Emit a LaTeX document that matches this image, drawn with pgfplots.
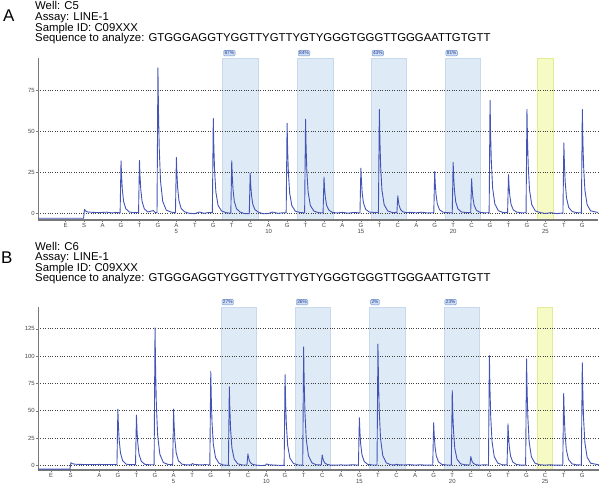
\documentclass[border=0pt]{standalone}
\usepackage{fontspec}
\setmainfont{Liberation Sans}
\usepackage{pgfplots}
\pgfplotsset{compat=1.18}

\definecolor{trace}{RGB}{68,84,182}
\definecolor{shadeblue}{RGB}{222,234,246}
\definecolor{shadeblueline}{RGB}{200,217,236}
\definecolor{shadeyellow}{RGB}{246,250,196}
\definecolor{shadeyellowline}{RGB}{226,236,150}
\definecolor{labelfill}{RGB}{205,222,245}
\definecolor{labeldraw}{RGB}{110,145,205}
\definecolor{labeltext}{RGB}{40,60,140}
\definecolor{axisgray}{RGB}{120,120,120}
\definecolor{ticktext}{RGB}{70,70,70}

\pgfplotsset{
  pyro/.style={
    scale only axis, width=560bp, height=162bp,
    set layers=standard, clip=false,
    axis x line=bottom, axis y line=left,
    axis line style={-, axisgray, line width=0.6bp},
    x axis line style={line width=1.3bp},
    tick align=outside, major tick length=2bp,
    tick style={axisgray, line width=0.4bp},
    ymajorgrids, major grid style={dotted, line width=0.7bp, black!75},
    xticklabels={E,S,A,G,T,G,A,T,G,T,C,A,G,T,C,A,G,T,C,A,G,T,C,G,T,G,C,T,G},
    extra x ticks={5,10,15,20,25},
    extra x tick style={major tick length=0pt, tick label style={yshift=-8bp}},
    ticklabel style={font=\fontsize{6}{6}\selectfont, text=ticktext, inner sep=1bp},
    /pgf/number format/assume math mode=true,
  },
}
\tikzset{
  pct/.style={anchor=south west, fill=labelfill, draw=labeldraw, rounded corners=1bp,
    inner sep=1bp, line width=0.4bp, text=labeltext, font=\fontsize{4.8}{4.8}\selectfont, yshift=2bp, xshift=0.8bp},
}

\begin{document}
\begin{tikzpicture}

% ---------------- panel A
\begin{axis}[pyro, at={(38bp,-58bp)}, anchor=north west,
  xmin=-2.5, xmax=27.85, ymin=-4.3, ymax=95,
  ytick={0,25,50,75},
  xtick={-1,0,1,2,...,27}]
\addplot[on layer=axis background, fill=shadeblue, draw=shadeblueline, line width=0.4bp]
  coordinates {(7.5,-4.3) (7.5,95) (9.45,95) (9.45,-4.3)};
\addplot[on layer=axis background, fill=shadeblue, draw=shadeblueline, line width=0.4bp]
  coordinates {(11.55,-4.3) (11.55,95) (13.5,95) (13.5,-4.3)};
\addplot[on layer=axis background, fill=shadeblue, draw=shadeblueline, line width=0.4bp]
  coordinates {(15.55,-4.3) (15.55,95) (17.45,95) (17.45,-4.3)};
\addplot[on layer=axis background, fill=shadeblue, draw=shadeblueline, line width=0.4bp]
  coordinates {(19.55,-4.3) (19.55,95) (21.45,95) (21.45,-4.3)};
\addplot[on layer=axis background, fill=shadeyellow, draw=shadeyellowline, line width=0.4bp]
  coordinates {(24.55,-4.3) (24.55,95) (25.4,95) (25.4,-4.3)};
\addplot[trace, line width=0.9bp, line join=round] coordinates {
(-2.5,-3.2) (-0.03,-3.2) (0.02,2.2) (0.08,1.2) (0.2,0.6) (0.45,0.4) (0.8,0.2) (1.2,0.5) (1.5,0.1) (1.8,0.3)
(1.95,0) (2,32) (2.03,22.4) (2.07,14.4) (2.14,7) (2.26,2.6) (2.45,0.6) (2.7,0.2)
(2.95,0.3) (3,32.3) (3.03,22.6) (3.07,14.5) (3.14,7.1) (3.26,2.6) (3.45,0.6) (3.75,1.5) (3.85,0.3)
(3.95,0.2) (4,89) (4.03,62.3) (4.07,40) (4.14,19.6) (4.26,7.1) (4.45,1.8) (4.7,0.6)
(4.95,0.1) (5,34) (5.03,23.8) (5.07,15.3) (5.14,7.5) (5.26,2.7) (5.45,0.7) (5.7,-0.2)
(6,-0.4) (6.25,0.6) (6.5,-0.2) (6.75,0.3)
(6.95,0.2) (7,58) (7.03,40.6) (7.07,26.1) (7.14,12.8) (7.26,4.6) (7.45,1.2) (7.7,0.2)
(7.95,-0.2) (8,32) (8.03,22.4) (8.07,14.4) (8.14,7) (8.26,2.6) (8.45,0.6) (8.7,-0.4)
(8.95,-0.4) (9,24.5) (9.03,17.2) (9.07,11) (9.14,5.4) (9.26,2) (9.45,0.5) (9.7,-0.5)
(10,-0.3) (10.2,0.6) (10.5,-0.2) (10.75,0.1)
(10.95,0.2) (11,55) (11.03,38.5) (11.07,24.8) (11.14,12.1) (11.26,4.4) (11.45,1.1) (11.7,0.3)
(11.95,0.1) (12,57.5) (12.03,40.3) (12.07,25.9) (12.14,12.7) (12.26,4.6) (12.45,1.2) (12.7,0.2)
(12.95,0.1) (13,22) (13.03,15.4) (13.07,9.9) (13.14,4.8) (13.26,1.8) (13.45,0.4) (13.7,0)
(14,0.4) (14.3,-0.1) (14.6,0.3)
(14.95,0.1) (15,27.5) (15.03,19.3) (15.07,12.4) (15.14,6.1) (15.26,2.2) (15.45,0.6) (15.7,0.3)
(15.95,0.3) (16,63.5) (16.03,44.5) (16.07,28.6) (16.14,14) (16.26,5.1) (16.45,1.3) (16.7,0.3)
(16.95,0.2) (17,10.5) (17.03,7.4) (17.07,4.7) (17.14,2.3) (17.26,0.8) (17.45,0.2) (17.7,0.4)
(18,0.1) (18.3,0.5) (18.6,0)
(18.95,0.2) (19,25.5) (19.03,17.9) (19.07,11.5) (19.14,5.6) (19.26,2) (19.45,0.5) (19.7,0.2)
(19.95,0.1) (20,31) (20.03,21.7) (20.07,14) (20.14,6.8) (20.26,2.5) (20.45,0.6) (20.7,0.3)
(20.95,0.2) (21,21) (21.03,14.7) (21.07,9.5) (21.14,4.6) (21.26,1.7) (21.45,0.4) (21.7,0.1)
(21.95,0.2) (22,69) (22.03,48.3) (22.07,31.1) (22.14,15.2) (22.26,5.5) (22.45,1.4) (22.7,0.3)
(22.95,0.2) (23,23.5) (23.03,16.5) (23.07,10.6) (23.14,5.2) (23.26,1.9) (23.45,0.5) (23.7,0.1)
(23.95,0.2) (24,63.5) (24.03,44.5) (24.07,28.6) (24.14,14) (24.26,5.1) (24.45,1.3) (24.7,0.3)
(25,-0.3) (25.3,0.2) (25.6,-0.4)
(25.95,0) (26,43) (26.03,30.1) (26.07,19.4) (26.14,9.5) (26.26,3.4) (26.45,0.9) (26.7,0.2)
(26.95,0.1) (27,63.5) (27.03,44.5) (27.07,28.6) (27.14,14) (27.26,5.1) (27.45,1.3) (27.85,0.3)
};
\node[pct] at (axis cs:7.5,95) {87\%};
\node[pct] at (axis cs:11.55,95) {84\%};
\node[pct] at (axis cs:15.55,95) {43\%};
\node[pct] at (axis cs:19.55,95) {81\%};
\end{axis}

% ---------------- panel B
\begin{axis}[pyro, at={(38bp,-307bp)}, anchor=north west, width=561bp, height=163bp,
  xmin=-2.3, xmax=27.9, ymin=-4.3, ymax=145,
  ytick={0,25,50,75,100,125},
  xtick={-1.6,-0.55,1,2,...,27}]
\addplot[on layer=axis background, fill=shadeblue, draw=shadeblueline, line width=0.4bp]
  coordinates {(7.55,-4.3) (7.55,145) (9.47,145) (9.47,-4.3)};
\addplot[on layer=axis background, fill=shadeblue, draw=shadeblueline, line width=0.4bp]
  coordinates {(11.55,-4.3) (11.55,145) (13.45,145) (13.45,-4.3)};
\addplot[on layer=axis background, fill=shadeblue, draw=shadeblueline, line width=0.4bp]
  coordinates {(15.55,-4.3) (15.55,145) (17.45,145) (17.45,-4.3)};
\addplot[on layer=axis background, fill=shadeblue, draw=shadeblueline, line width=0.4bp]
  coordinates {(19.55,-4.3) (19.55,145) (21.45,145) (21.45,-4.3)};
\addplot[on layer=axis background, fill=shadeyellow, draw=shadeyellowline, line width=0.4bp]
  coordinates {(24.55,-4.3) (24.55,145) (25.4,145) (25.4,-4.3)};
\addplot[trace, line width=0.9bp, line join=round] coordinates {
(-2.3,-3.5) (-0.58,-3.5) (-0.53,2.4) (-0.45,1.5) (-0.3,1) (0,0.8) (0.5,0.7) (1,0.8) (1.5,0.7)
(1.95,0.7) (2,51.5) (2.03,36.1) (2.07,23.2) (2.14,11.3) (2.26,4.1) (2.45,1) (2.7,0.6)
(2.95,0.6) (3,46) (3.03,32.2) (3.07,20.7) (3.14,10.1) (3.26,3.7) (3.45,0.9) (3.7,0.5)
(3.95,0.5) (4,126) (4.03,88.2) (4.07,56.7) (4.14,27.7) (4.26,10.1) (4.45,2.5) (4.7,0.8)
(4.95,0.5) (5,51.5) (5.03,36.1) (5.07,23.2) (5.14,11.3) (5.26,4.1) (5.45,1) (5.7,0.4)
(5.95,0.4) (6,1.6) (6.1,0.9) (6.4,0.4) (6.7,0.6)
(6.95,0.4) (7,86) (7.03,60.2) (7.07,38.7) (7.14,18.9) (7.26,6.9) (7.45,1.7) (7.7,0.2)
(7.95,0) (8,72) (8.03,50.4) (8.07,32.4) (8.14,15.8) (8.26,5.8) (8.45,1.4) (8.7,0.3)
(8.95,0.3) (9,10.5) (9.03,7.4) (9.07,4.7) (9.14,2.3) (9.26,0.8) (9.45,0.2) (9.7,-0.2)
(9.95,0) (10,1.3) (10.1,0.6) (10.4,0.2) (10.7,0)
(10.95,0) (11,83) (11.03,58.1) (11.07,37.4) (11.14,18.3) (11.26,6.6) (11.45,1.7) (11.7,0.3)
(11.95,0.2) (12,108.5) (12.03,76) (12.07,48.8) (12.14,23.9) (12.26,8.7) (12.45,2.2) (12.7,0.4)
(12.95,0.3) (13,9.5) (13.03,6.7) (13.07,4.3) (13.14,2.1) (13.26,0.8) (13.45,0.2) (13.7,0.1)
(14,0.4) (14.3,0.1) (14.6,0.5)
(14.95,0.2) (15,43.5) (15.03,30.5) (15.07,19.6) (15.14,9.6) (15.26,3.5) (15.45,0.9) (15.7,0.3)
(15.95,0.2) (16,111) (16.03,77.7) (16.07,50) (16.14,24.4) (16.26,8.9) (16.45,2.2) (16.7,0.5)
(16.95,0.4) (17,1) (17.1,0.5) (17.4,0.3) (17.7,0.6) (18,0.2) (18.3,0.5) (18.6,0.1)
(18.95,0.2) (19,39) (19.03,27.3) (19.07,17.6) (19.14,8.6) (19.26,3.1) (19.45,0.8) (19.7,0.3)
(19.95,0.2) (20,68.5) (20.03,48) (20.07,30.8) (20.14,15.1) (20.26,5.5) (20.45,1.4) (20.7,0.4)
(20.95,0.3) (21,8) (21.03,5.6) (21.07,3.6) (21.14,1.8) (21.26,0.6) (21.45,0.2) (21.7,0.4)
(21.95,0.3) (22,100.5) (22.03,70.4) (22.07,45.2) (22.14,22.1) (22.26,8) (22.45,2) (22.7,0.5)
(22.95,0.3) (23,38) (23.03,26.6) (23.07,17.1) (23.14,8.4) (23.26,3) (23.45,0.8) (23.7,0.2)
(23.95,0.2) (24,97.5) (24.03,68.3) (24.07,43.9) (24.14,21.5) (24.26,7.8) (24.45,2) (24.7,0.5)
(25,0.2) (25.3,0.5) (25.6,0.1)
(25.95,0.2) (26,66) (26.03,46.2) (26.07,29.7) (26.14,14.5) (26.26,5.3) (26.45,1.3) (26.7,0.4)
(26.95,0.3) (27,94) (27.03,65.8) (27.07,42.3) (27.14,20.7) (27.26,7.5) (27.45,1.9) (27.9,0.4)
};
\node[pct] at (axis cs:7.55,145) {27\%};
\node[pct] at (axis cs:11.55,145) {26\%};
\node[pct] at (axis cs:15.55,145) {2\%};
\node[pct] at (axis cs:19.55,145) {23\%};
\end{axis}

% ---------------- headers
\begin{scope}[every node/.style={anchor=base west, inner sep=0pt, font=\fontsize{11.4}{12}\selectfont}]
\node at (35bp,-9.5bp) {Well: C5};
\node at (35bp,-20.3bp) {Assay: LINE-1};
\node at (35bp,-31bp) {Sample ID: C09XXX};
\node at (35bp,-41.8bp) {Sequence to analyze: GTGGGAGGTYGGTTYGTTYGTYGGGTGGGTTGGGAATTGTGTT};
\node at (35bp,-250bp) {Well: C6};
\node at (35bp,-260.5bp) {Assay: LINE-1};
\node at (35bp,-271bp) {Sample ID: C09XXX};
\node at (35bp,-281.5bp) {Sequence to analyze: GTGGGAGGTYGGTTYGTTYGTYGGGTGGGTTGGGAATTGTGTT};
\node[font=\fontsize{17}{17}\selectfont] at (3bp,-21bp) {A};
\node[font=\fontsize{17}{17}\selectfont] at (1bp,-263.5bp) {B};
\end{scope}

\pgfresetboundingbox
\path[use as bounding box] (0,0) rectangle (600bp,-486bp);
\end{tikzpicture}
\end{document}
